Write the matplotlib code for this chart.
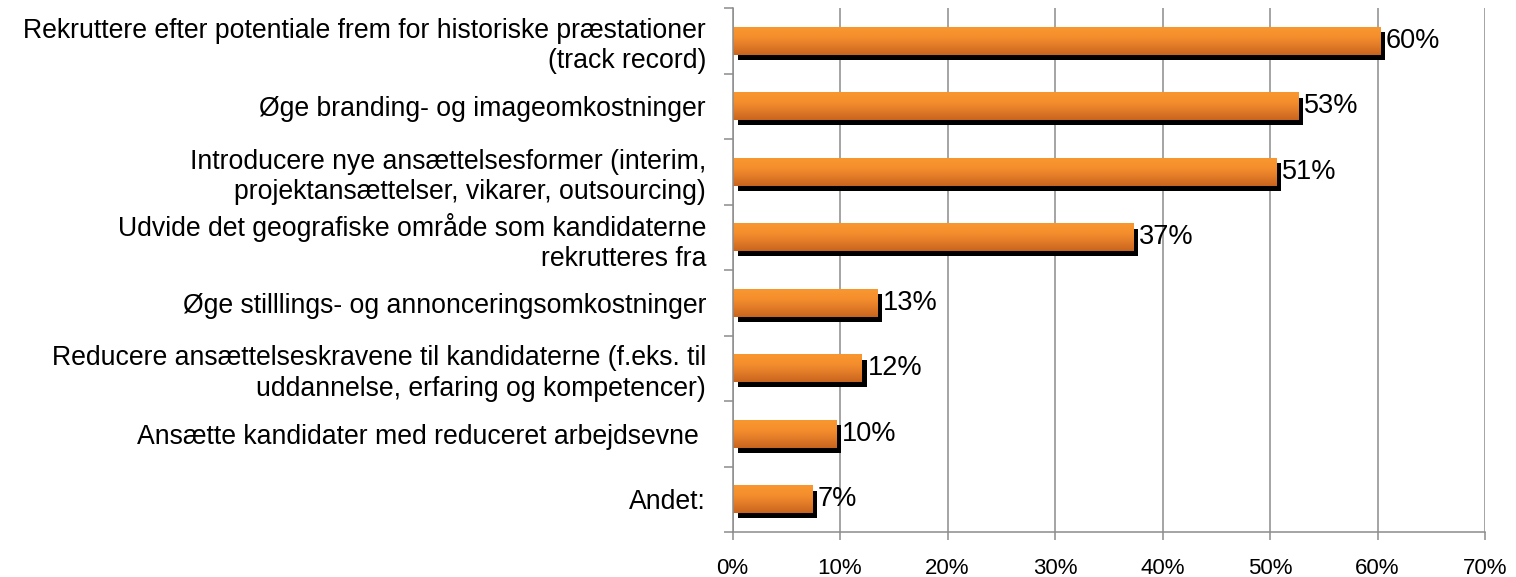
import numpy as np
import matplotlib
matplotlib.use('Agg')
import matplotlib.pyplot as plt
import matplotlib.patheffects as pe
from matplotlib.colors import LinearSegmentedColormap

categories = [
    'Rekruttere efter potentiale frem for historiske præstationer\n(track record)',
    'Øge branding- og imageomkostninger',
    'Introducere nye ansættelsesformer (interim,\nprojektansættelser, vikarer, outsourcing)',
    'Udvide det geografiske område som kandidaterne\nrekrutteres fra',
    'Øge stilllings- og annonceringsomkostninger',
    'Reducere ansættelseskravene til kandidaterne (f.eks. til\nuddannelse, erfaring og kompetencer)',
    'Ansætte kandidater med reduceret arbejdsevne ',
    'Andet:',
]
values = [60.2, 52.6, 50.6, 37.3, 13.4, 12.0, 9.6, 7.4]
xticks = [0, 10, 20, 30, 40, 50, 60, 70]

plt.rcParams['font.family'] = ['Liberation Sans', 'DejaVu Sans']
GRID = '#8c8c8c'
ORANGE = LinearSegmentedColormap.from_list('orng', ['#c8641e', '#e27b27', '#f58f2d', '#f9972f'])

fig = plt.figure(figsize=(15.16, 5.77), dpi=100)
ax = fig.add_axes([732.5 / 1516, 1 - 532 / 577, (1485 - 732.5) / 1516, (532 - 8) / 577])

n = len(categories)
ypos = np.arange(n)
h = 0.42
ax.barh(ypos, values, height=h, color='#f08a2a', zorder=3,
        path_effects=[pe.SimplePatchShadow(offset=(3.6, -3.8), shadow_rgbFace='k', alpha=1.0), pe.Normal()])
grad = np.linspace(0, 1, 64).reshape(-1, 1)
for y, v in zip(ypos, values):
    ax.imshow(grad, cmap=ORANGE, aspect='auto', origin='lower',
              extent=[0, v, y + h / 2, y - h / 2], zorder=4)
    ax.text(v + 0.55, y, f'{v:.0f}%', va='center', ha='left', fontsize=19.5, color='black', zorder=5)

ax.set_xlim(0, 70)
ax.set_ylim(n - 0.5, -0.5)
ax.set_xticks(xticks)
ax.set_xticklabels([f'{t}%' for t in xticks], fontsize=16)
ax.set_yticks(ypos)
ax.set_yticklabels(categories, fontsize=19.2, linespacing=1.22)
ax.set_yticks(np.arange(n + 1) - 0.5, minor=True)
ax.tick_params(axis='y', which='major', length=0, pad=19)
ax.tick_params(axis='y', which='minor', length=6.5, width=1.1, color=GRID)
ax.tick_params(axis='x', length=6, width=1.1, color=GRID, pad=13)
ax.grid(axis='x', color=GRID, linewidth=1.1, zorder=0)
for s in ['top', 'right']:
    ax.spines[s].set_visible(False)
for s in ['left', 'bottom']:
    ax.spines[s].set_color(GRID)
    ax.spines[s].set_linewidth(1.1)
    ax.spines[s].set_zorder(6)

fig.savefig('out.png', dpi=100, facecolor='white')
